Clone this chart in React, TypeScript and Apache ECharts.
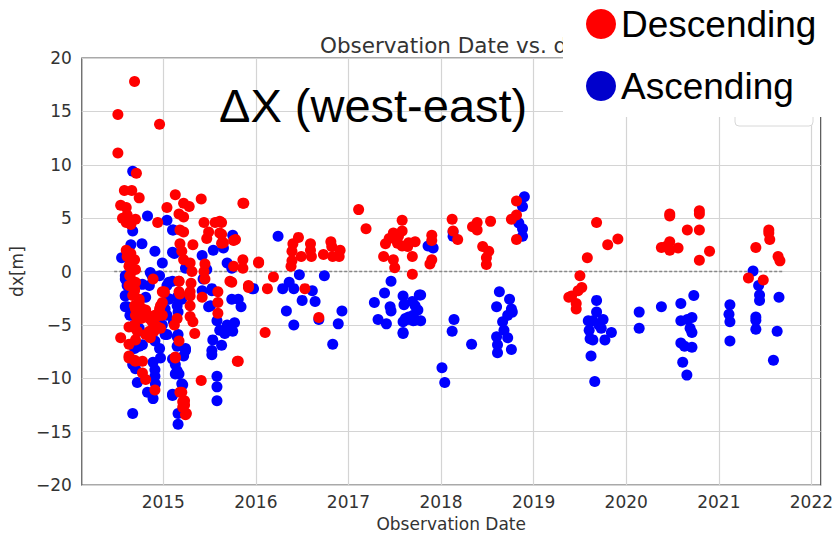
import React, { useEffect, useRef } from "react";
import * as echarts from "echarts";

const yearTicks = [2015, 2016, 2017, 2018, 2019, 2020, 2021, 2022];
const zeroLine = [[2014.47, 0], [2021.7, 0]];

const descending = [
  [2014.51, 14.7], [2014.51, 11.1], [2014.69, 17.8], [2014.96, 13.8], [2014.71, 9.2],
  [2014.58, 7.6], [2014.66, 7.6], [2014.74, 6.9], [2015.13, 7.2], [2014.54, 6.2], [2014.6, 6.0], [2015.04, 6.0],
  [2014.7, 4.9], [2014.6, 4.6], [2014.65, 4.4], [2014.94, 4.6], [2014.61, 5.3], [2014.56, 5.0],
  [2014.6, 2.0], [2014.65, 1.7], [2014.69, 1.1], [2014.64, 0.7], [2014.7, 0.2], [2014.89, -0.7], [2014.64, -0.4],
  [2014.7, -1.0], [2014.69, -1.6], [2014.99, -1.9], [2015.17, -0.9],
  [2014.61, 1.4], [2014.63, 0.5], [2014.64, -0.4], [2014.63, -1.3],
  [2014.69, -1.8], [2014.74, -2.6], [2014.7, -3.5], [2014.81, -3.6], [2014.76, -4.4], [2014.86, -4.2], [2014.91, -4.4],
  [2014.67, -5.2], [2015.01, -1.9], [2014.97, -3.2], [2014.99, -4.1],
  [2014.67, -2.25], [2014.69, -3.2], [2014.7, -4.1], [2014.69, -5.0], [2014.74, -2.9], [2014.775, -3.5], [2014.81, -4.1],
  [2014.85, -4.4], [2014.88, -4.7], [2014.91, -4.1], [2014.96, -3.5], [2014.99, -2.9], [2015.01, -1.95], [2014.97, -5.3],
  [2014.85, -5.6], [2014.81, -5.9], [2014.9, -5.6], [2014.72, -5.6], [2014.63, -5.2], [2014.96, -4.1],
  [2014.54, -6.2], [2014.63, -6.8], [2014.7, -6.4], [2014.86, -6.2], [2015.12, -5.0], [2014.94, -5.2],
  [2014.63, -7.9], [2014.7, -8.4], [2014.775, -8.4], [2014.775, -9.5], [2014.81, -10.1], [2014.91, -11.1], [2014.63, -8.1], [2014.69, -8.3],
  [2015.13, -8.1], [2015.18, -11.3], [2015.21, -12.2], [2015.21, -12.7], [2015.24, -13.4], [2015.41, -10.2], [2015.8, -8.4],
  [2015.22, 6.4], [2015.28, 6.1], [2015.41, 6.8], [2015.86, 6.4],
  [2015.17, 5.4], [2015.22, 5.1], [2015.44, 4.6], [2015.56, 4.6], [2015.63, 4.6], [2015.61, 4.7], [2015.49, 3.7], [2015.47, 3.1],
  [2015.63, 3.5], [2015.65, 2.7], [2015.76, 2.9], [2015.18, 3.9], [2015.22, 3.7],
  [2015.18, 2.6], [2015.2, 1.9], [2015.32, 2.5], [2015.22, 1.1], [2015.29, 0.8], [2015.45, 0.7], [2015.86, 1.1], [2015.76, 0.5],
  [2015.86, 0.3], [2016.03, 0.8],
  [2015.31, 0.0], [2015.44, 0.0], [2015.17, -0.9], [2015.3, -1.1], [2015.45, -0.7], [2015.72, -0.9], [2015.92, -1.3], [2015.17, -1.9], [2015.29, -1.9],
  [2015.18, -2.1], [2015.29, -2.3], [2015.42, -2.4], [2015.59, -1.9], [2015.59, -2.9], [2015.59, -3.9], [2015.29, -3.2], [2015.29, -4.2],
  [2015.32, -4.7], [2015.15, -4.4], [2015.34, -5.8], [2015.17, -6.5], [2015.13, -8.0], [2015.81, -8.4], [2015.2, -11.3],
  [2015.23, -12.1], [2015.23, -12.5], [2015.25, -13.3], [2015.92, -1.5],
  [2015.87, 6.4], [2015.78, 3.0], [2015.61, 3.6], [2015.63, 2.65], [2015.74, -1.0],
  [2016.03, 0.9], [2016.19, -0.5], [2016.125, -1.6], [2016.1, -5.7], [2016.53, -1.6], [2016.68, -4.3],
  [2016.38, 0.5], [2016.39, 1.0], [2016.39, 1.9], [2016.4, 2.6], [2016.46, 3.2], [2016.49, 1.4], [2016.59, 2.6], [2016.59, 2.0],
  [2016.6, 1.4], [2016.73, 1.6], [2016.81, 2.8], [2016.82, 2.35], [2016.83, 1.4], [2016.9, 1.4], [2016.91, 2.0],
  [2017.11, 5.8], [2017.19, 4.0],
  [2017.58, 4.8], [2017.58, 3.8], [2017.54, 3.3], [2017.485, 3.6], [2017.44, 3.1], [2017.4, 2.6], [2017.53, 2.65], [2017.58, 2.4],
  [2017.65, 2.7], [2017.72, 2.8], [2017.64, 2.35], [2017.38, 1.4], [2017.485, 1.1], [2017.5, 0.35], [2017.69, 1.4], [2017.69, -0.26],
  [2017.9, 3.4], [2017.9, 2.9], [2017.9, 1.1], [2017.88, 0.7],
  [2018.12, 4.9], [2018.13, 3.8], [2018.18, 3.0], [2018.39, 4.6], [2018.34, 4.2], [2018.39, 3.9], [2018.535, 4.7], [2018.45, 2.35],
  [2018.515, 1.9], [2018.49, 1.3], [2018.49, 0.66], [2018.815, 6.6], [2018.815, 5.3], [2018.76, 4.9], [2018.815, 3.0],
  [2019.5, -0.4], [2019.52, -1.5], [2019.48, -1.8], [2019.41, -2.3], [2019.46, -3.0], [2019.46, -3.5], [2019.38, -2.4],
  [2019.58, 1.3], [2019.68, 4.6], [2019.8, 2.5], [2019.91, 3.05],
  [2020.47, 5.4], [2020.47, 5.2], [2020.38, 2.25], [2020.43, 2.35], [2020.47, 2.8], [2020.47, 2.0], [2020.56, 2.2], [2020.66, 3.9],
  [2020.79, 5.7], [2020.79, 5.4], [2020.79, 3.9], [2020.9, 1.9], [2020.79, 1.05],
  [2021.32, -0.6], [2021.48, -0.8], [2021.4, 2.25], [2021.54, 3.9], [2021.54, 3.6], [2021.55, 3.0], [2021.64, 1.4], [2021.66, 1.0],
];

const ascending = [
  [2014.67, 9.4], [2014.83, 5.2], [2015.04, 4.8], [2014.67, 3.8], [2015.11, 3.9], [2014.77, 2.6], [2014.65, 2.5], [2014.91, 1.9],
  [2015.1, 1.8], [2014.55, 1.3], [2014.99, 0.8], [2014.86, -0.1], [2015.06, -1.0], [2014.59, -0.7], [2014.61, -1.3], [2014.775, -1.2],
  [2014.59, -2.3], [2014.59, -3.3], [2014.64, -4.1], [2015.06, -2.6], [2015.02, -3.5], [2014.97, -5.3], [2014.74, -5.3], [2015.04, -5.9],
  [2014.91, -6.5], [2014.74, -7.0], [2015.16, -5.9],
  [2014.67, -8.7], [2014.7, -9.1], [2014.72, -10.4], [2014.89, -8.5], [2014.91, -9.2], [2014.91, -9.8], [2014.915, -10.5],
  [2014.83, -11.3], [2014.89, -11.9], [2014.67, -13.3],
  [2014.59, -0.4], [2014.61, -1.0], [2014.59, -2.25], [2014.61, -3.3], [2014.69, -5.0], [2014.74, -5.6], [2014.775, -6.85],
  [2014.69, -7.2], [2014.88, -0.4], [2014.96, -0.4], [2015.04, -1.3], [2015.06, -2.55], [2014.96, -3.8], [2015.04, -4.1],
  [2014.99, -5.0], [2015.02, -5.9], [2014.96, -7.2], [2014.97, -8.1], [2014.85, -1.3], [2014.81, -2.4], [2015.15, -2.4],
  [2015.16, -3.8], [2015.11, -4.7], [2015.24, -7.2], [2015.22, -7.9],
  [2015.1, -8.2], [2015.15, -9.3], [2015.13, -9.6], [2015.21, -10.6], [2015.1, -11.5], [2015.16, -13.3], [2015.16, -14.3],
  [2015.525, -7.8], [2015.58, -9.8], [2015.58, -10.8], [2015.58, -12.1],
  [2015.1, 3.9], [2015.75, 3.4], [2015.54, 2.0], [2015.42, 1.5], [2015.65, 2.2], [2015.12, 1.7], [2015.69, 0.8], [2015.24, 0.3],
  [2015.47, 0.2], [2015.74, 0.3], [2015.43, -0.7], [2015.96, -1.6], [2015.525, -1.6], [2015.1, -0.9],
  [2015.525, -1.8], [2015.74, -2.6], [2015.81, -2.6], [2015.84, -3.3], [2015.49, -3.3], [2015.15, -3.2], [2015.2, -2.6],
  [2015.58, -4.6], [2015.77, -4.8], [2015.61, -5.5], [2015.665, -5.8], [2015.72, -5.3], [2015.69, -5.0], [2015.535, -6.4],
  [2015.63, -6.9], [2015.525, -7.4], [2015.24, -7.4], [2015.15, -6.1], [2015.15, -7.0], [2015.13, -8.7], [2015.17, -9.6],
  [2015.2, -10.5], [2015.1, -11.6], [2015.42, -1.8], [2015.51, -3.2], [2015.75, -5.6],
  [2016.24, 3.3], [2016.29, -1.6], [2016.33, -3.7], [2016.36, -1.0], [2016.41, -1.6], [2016.41, -5.0], [2016.47, -0.3],
  [2016.5, -2.7], [2016.61, -1.8], [2016.64, -2.8], [2016.68, -4.5], [2016.74, -0.4], [2016.83, -6.8], [2016.89, -4.9],
  [2016.93, -3.7], [2015.975, -1.6],
  [2017.46, -0.9], [2017.39, -2.0], [2017.28, -2.9], [2017.45, -3.3], [2017.46, -3.7], [2017.32, -4.5], [2017.41, -4.9],
  [2017.59, -2.3], [2017.6, -3.1], [2017.69, -2.8], [2017.72, -3.2], [2017.78, -2.2], [2017.75, -3.6], [2017.7, -4.1],
  [2017.64, -4.5], [2017.59, -4.7], [2017.72, -4.55], [2017.78, -4.6], [2017.59, -5.7], [2017.615, -4.4], [2017.65, -4.25],
  [2017.7, -4.6], [2017.59, -5.8], [2017.765, -2.2],
  [2017.86, 2.4], [2017.915, 2.2], [2018.01, -9.0], [2018.04, -10.4],
  [2018.13, 3.3], [2018.13, 3.7], [2018.14, -4.5], [2018.12, -5.6], [2018.33, -6.8],
  [2018.63, -1.9], [2018.6, -3.3], [2018.74, -2.6], [2018.76, -3.5], [2018.77, -3.8], [2018.72, -4.1], [2018.665, -4.7],
  [2018.68, -5.5], [2018.6, -6.1], [2018.72, -6.2], [2018.61, -6.85], [2018.61, -7.6], [2018.76, -7.3],
  [2018.9, 7.0], [2018.88, 6.1], [2018.84, 4.55], [2018.88, 4.0], [2018.88, 3.3],
  [2019.68, -2.7], [2019.68, -3.8], [2019.59, -4.6], [2019.64, -4.6], [2019.705, -5.0], [2019.75, -4.5], [2019.73, -5.3],
  [2019.6, -5.5], [2019.61, -6.3], [2019.64, -6.4], [2019.77, -6.4], [2019.84, -5.7], [2019.62, -7.9], [2019.66, -10.3],
  [2020.14, -3.8], [2020.14, -5.3], [2020.38, -3.3],
  [2020.59, -3.0], [2020.73, -2.25], [2020.59, -4.6], [2020.66, -4.5], [2020.71, -4.3], [2020.69, -5.3], [2020.71, -5.7],
  [2020.59, -6.7], [2020.63, -7.0], [2020.71, -7.1], [2020.61, -8.5], [2020.655, -9.7],
  [2021.12, -3.1], [2021.11, -4.0], [2021.12, -4.7], [2021.12, -6.5],
  [2021.37, 0.05], [2021.43, -1.3], [2021.44, -2.2], [2021.44, -2.7], [2021.4, -4.25], [2021.4, -4.55], [2021.4, -5.4],
  [2021.65, -2.4], [2021.63, -5.6], [2021.59, -8.3],
];

const legendNames = ["Descending", "Ascending"];
const legendColors = ["#ff0000", "#0000cc"];

const labelFont = "'DejaVu Sans', sans-serif";
const arialFont = "'Liberation Sans', Arial, sans-serif";

export default function App() {
  const ref = useRef<HTMLDivElement>(null);
  useEffect(() => {
    if (!ref.current) return;
    const chart = echarts.init(ref.current, undefined, { renderer: "svg", width: 836, height: 537 });
    const fmtY = (v: number) => (v < 0 ? "\u2212" + Math.abs(v) : String(v));
    chart.setOption({
      animation: false,
      backgroundColor: "#ffffff",
      grid: {
        left: 79, width: 744, top: 58, height: 435,
        show: true, borderColor: "#555555", borderWidth: 1.2, backgroundColor: "transparent",
      },
      xAxis: {
        type: "value",
        min: 2014.12,
        max: 2022.1,
        name: "Observation Date",
        nameLocation: "middle",
        nameGap: 27,
        nameTextStyle: { fontSize: 17, color: "#333", fontFamily: labelFont },
        axisLine: { show: false },
        axisTick: { show: false, customValues: yearTicks },
        axisLabel: {
          customValues: yearTicks,
          formatter: (v: number) => String(Math.round(v)),
          fontSize: 17, color: "#333", fontFamily: labelFont, margin: 8,
        },
        splitLine: { show: true, lineStyle: { color: "#d4d4d4", width: 1.2 } },
      },
      yAxis: {
        type: "value",
        min: -20,
        max: 20,
        interval: 5,
        name: "dx[m]",
        nameLocation: "middle",
        nameGap: 46,
        nameTextStyle: { fontSize: 17, color: "#333", fontFamily: labelFont },
        axisLine: { show: false },
        axisTick: { show: false },
        axisLabel: { formatter: fmtY, fontSize: 17, color: "#333", fontFamily: labelFont, margin: 10 },
        splitLine: { show: true, lineStyle: { color: "#d4d4d4", width: 1.2 } },
      },
      series: [
        {
          type: "line",
          data: zeroLine,
          symbol: "none",
          silent: true,
          z: 1,
          lineStyle: { color: "#888888", width: 1.5, type: [3, 2] },
        },
        {
          name: legendNames[1],
          type: "scatter",
          data: ascending,
          symbolSize: 11,
          z: 2,
          itemStyle: { color: "#0000ff", opacity: 1 },
        },
        {
          name: legendNames[0],
          type: "scatter",
          data: descending,
          symbolSize: 11,
          z: 3,
          itemStyle: { color: "#ff0000", opacity: 1 },
        },
      ],
      graphic: [
        {
          type: "text", x: 320, y: 45, z: 50,
          style: { text: "Observation Date vs. dx", font: `21.5px ${labelFont}`, fill: "#333", verticalAlign: "middle" },
        },
        {
          type: "text", x: 219, y: 105, z: 60,
          style: { text: "\u0394X (west-east)", font: `47px ${arialFont}`, fill: "#000", verticalAlign: "middle" },
        },
        {
          type: "rect", z: 99,
          shape: { x: 735, y: 95, width: 78, height: 31, r: 4 },
          style: { fill: "#ffffff", stroke: "#d8d8d8", lineWidth: 1 },
        },
        {
          type: "rect", z: 100,
          shape: { x: 563, y: 0, width: 273, height: 117 },
          style: { fill: "#ffffff" },
        },
        {
          type: "circle", z: 101,
          shape: { cx: 601, cy: 24, r: 15 },
          style: { fill: legendColors[0] },
        },
        {
          type: "text", x: 621, y: 24, z: 101,
          style: { text: legendNames[0], font: `37px ${arialFont}`, fill: "#000", verticalAlign: "middle" },
        },
        {
          type: "circle", z: 101,
          shape: { cx: 601, cy: 86, r: 15 },
          style: { fill: legendColors[1] },
        },
        {
          type: "text", x: 621, y: 86, z: 101,
          style: { text: legendNames[1], font: `37px ${arialFont}`, fill: "#000", verticalAlign: "middle" },
        },
      ],
    });
    return () => chart.dispose();
  }, []);
  return (
    <div
      ref={ref}
      style={{ position: "fixed", left: 0, top: 0, width: 836, height: 537 }}
    />
  );
}
